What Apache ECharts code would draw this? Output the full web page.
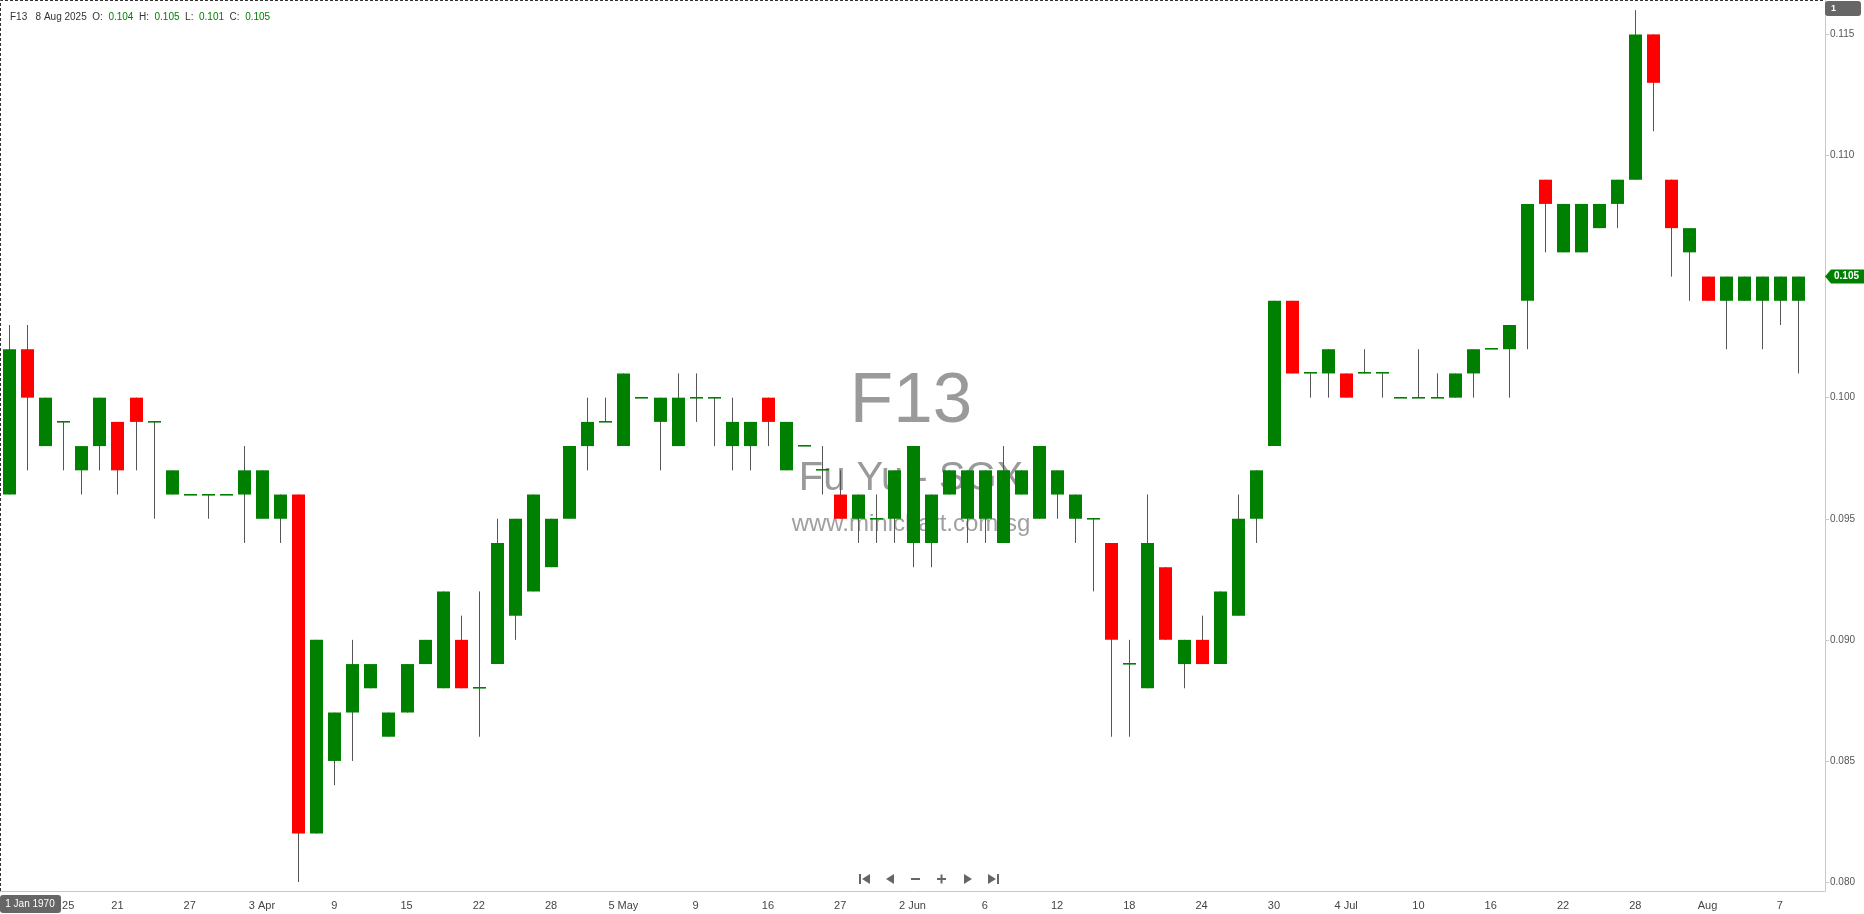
<!DOCTYPE html>
<html>
<head>
<meta charset="utf-8">
<script src="https://cdn.jsdelivr.net/npm/echarts@6/dist/echarts.min.js"></script>
<style>
  html, body { margin: 0; padding: 0; background: #fff; }
  #chart { width: 1864px; height: 914px; }
</style>
</head>
<body>
<div id="chart"></div>
<script>
// F13 Fu Yu - SGX, daily candles (oldest first)
const symbol = 'F13';
const lastDate = '8 Aug 2025';
const tickLabels = ['25', '21', '27', '3 Apr', '9', '15', '22', '28', '5 May', '9', '16', '27', '2 Jun',
  '6', '12', '18', '24', '30', '4 Jul', '10', '16', '22', '28', 'Aug', '7'];
const firstTick = 2, tickStep = 4;
const yLabels = [0.080, 0.085, 0.090, 0.095, 0.100, 0.105, 0.110, 0.115];

const open = [.096,.102,.098,.099,.097,.098,.099,.100,.099,.096, .096,.096,.096,.096,.095,.095,.096,.082,.085,.087,
  .088,.086,.087,.089,.088,.090,.088,.089,.091,.092, .093,.095,.098,.099,.098,.100,.099,.098,.100,.100,
  .098,.098,.100,.097,.098,.097,.096,.095,.095,.095, .094,.094,.096,.095,.095,.094,.096,.095,.096,.095,
  .095,.094,.089,.088,.093,.089,.090,.089,.091,.095, .098,.104,.101,.101,.101,.101,.101,.100,.100,.100,
  .100,.101,.102,.102,.104,.109,.106,.106,.107,.108, .109,.115,.109,.106,.105,.104,.104,.104,.104,.104];
const high = [.103,.103,.100,.099,.098,.100,.099,.100,.099,.097, .096,.096,.096,.098,.097,.096,.096,.090,.087,.090,
  .089,.087,.089,.090,.092,.091,.092,.095,.095,.096, .095,.098,.100,.100,.101,.100,.100,.101,.101,.100,
  .100,.099,.100,.099,.098,.098,.097,.096,.096,.097, .098,.096,.097,.097,.097,.098,.097,.098,.097,.096,
  .095,.094,.090,.096,.093,.090,.091,.092,.096,.097, .104,.104,.101,.102,.101,.102,.101,.100,.102,.101,
  .101,.102,.102,.103,.108,.109,.108,.108,.108,.109, .116,.115,.109,.107,.105,.105,.105,.105,.105,.105];
const low = [.096,.097,.098,.097,.096,.097,.096,.097,.095,.096, .096,.095,.096,.094,.095,.094,.080,.082,.084,.085,
  .088,.086,.087,.089,.088,.088,.086,.089,.090,.092, .093,.095,.097,.099,.098,.100,.097,.098,.099,.098,
  .097,.097,.098,.097,.098,.096,.095,.094,.094,.094, .093,.093,.096,.094,.094,.094,.096,.095,.095,.094,
  .092,.086,.086,.088,.090,.088,.089,.089,.091,.094, .098,.101,.100,.100,.100,.101,.100,.100,.100,.100,
  .100,.100,.102,.100,.102,.106,.106,.106,.107,.107, .109,.111,.105,.104,.104,.102,.104,.102,.103,.101];
const close = [.102,.100,.100,.099,.098,.100,.097,.099,.099,.097, .096,.096,.096,.097,.097,.096,.082,.090,.087,.089,
  .089,.087,.089,.090,.092,.088,.088,.094,.095,.096, .095,.098,.099,.099,.101,.100,.100,.100,.100,.100,
  .099,.099,.099,.099,.098,.097,.095,.096,.095,.097, .098,.096,.097,.097,.097,.097,.097,.098,.097,.096,
  .095,.090,.089,.094,.090,.090,.089,.092,.095,.097, .104,.101,.101,.102,.100,.101,.101,.100,.100,.100,
  .101,.102,.102,.103,.108,.108,.108,.108,.108,.109, .115,.113,.107,.107,.104,.105,.105,.105,.105,.105];

const UP = '#008000', DOWN = '#ff0000', WICK = '#555555';
const FONT = '"Liberation Sans", Arial, sans-serif';

// one empty slot after the last candle, like the original
const slots = open.map((_, i) => i).concat([open.length]);
const candles = open.map((o, i) => [i, o, close[i], low[i], high[i]]);
const last = open.length - 1;

const chart = echarts.init(document.getElementById('chart'));

function renderCandle(params, api) {
  const i = api.value(0);
  const o = api.value(1), c = api.value(2);
  const x = Math.round(api.coord([i, o])[0]) + 0.5;
  const yO = api.coord([i, o])[1];
  const yC = api.coord([i, c])[1];
  const yL = api.coord([i, api.value(3)])[1];
  const yH = api.coord([i, api.value(4)])[1];
  const bw = Math.round(api.size([1, 0])[0] * 0.72);
  const left = Math.round(x - bw / 2);
  const kids = [{
    type: 'line',
    shape: { x1: x, y1: yH, x2: x, y2: yL },
    style: { stroke: WICK, lineWidth: 1 }
  }];
  if (o === c) {
    kids.push({
      type: 'rect',
      shape: { x: left, y: Math.round(yO) - 1, width: bw, height: 1.6 },
      style: { fill: UP }
    });
  } else {
    kids.push({
      type: 'rect',
      shape: { x: left, y: Math.min(yO, yC), width: bw, height: Math.abs(yO - yC) },
      style: { fill: c > o ? UP : DOWN }
    });
  }
  return { type: 'group', children: kids };
}

const fmt = (v) => v.toFixed(3);
const isTick = (i) => i >= firstTick && (i - firstTick) % tickStep === 0;

chart.setOption({
  animation: false,
  title: {
    left: 5,
    top: 7,
    text: `{k|${symbol}}   {k|${lastDate}}  {k|O:}  {v|${fmt(open[last])}}  {k|H:}  {v|${fmt(high[last])}}  {k|L:}  {v|${fmt(low[last])}}  {k|C:}  {v|${fmt(close[last])}}`,
    textStyle: {
      fontWeight: 'normal',
      fontSize: 10,
      rich: {
        k: { color: '#333', fontSize: 10, fontWeight: 'normal', fontFamily: FONT },
        v: { color: UP, fontSize: 10, fontWeight: 'normal', fontFamily: FONT }
      }
    }
  },
  grid: { left: 0, top: 0, right: 39, bottom: 23 },
  xAxis: {
    type: 'category',
    data: slots,
    boundaryGap: true,
    axisLine: { lineStyle: { color: '#c8c8c8', width: 1 } },
    axisTick: {
      alignWithLabel: true,
      length: 5,
      interval: isTick,
      lineStyle: { color: '#c8c8c8' }
    },
    axisLabel: {
      interval: isTick,
      // the first label sits partly under the date box, its visible end shows to the right
      formatter: (v, i) => {
        const t = tickLabels[(i - firstTick) / tickStep] || '';
        return i === firstTick ? `{first|${t}}` : t;
      },
      rich: { first: { padding: [0, 0, 0, 46], color: '#444', fontSize: 11, fontFamily: FONT } },
      color: '#444',
      fontSize: 11,
      fontFamily: FONT,
      margin: 9
    },
    splitLine: { show: false }
  },
  yAxis: {
    type: 'value',
    position: 'right',
    min: 0.07963,
    max: 0.11642,
    axisLine: { show: true, lineStyle: { color: '#c8c8c8', width: 1 } },
    axisTick: { show: true, length: 4, customValues: yLabels, lineStyle: { color: '#c8c8c8' } },
    axisLabel: {
      customValues: yLabels,
      formatter: (v) => v.toFixed(3),
      color: '#555',
      fontSize: 10,
      fontFamily: FONT,
      margin: 5
    },
    splitLine: { show: false }
  },
  series: [{
    type: 'custom',
    name: symbol,
    renderItem: renderCandle,
    encode: { x: 0, y: [1, 2, 3, 4] },
    data: candles,
    clip: true,
    z: 5
  }]
});

// overlays: watermark, frame, price tag, nav buttons
const yLast = chart.convertToPixel({ yAxisIndex: 0 }, close[last]);
const axisX = 1825;
const navY = 879;
const tri = (cx, dir) => ({
  type: 'polygon',
  shape: { points: dir < 0 ? [[cx + 4, navY - 5], [cx + 4, navY + 5], [cx - 4, navY]] : [[cx - 4, navY - 5], [cx - 4, navY + 5], [cx + 4, navY]] },
  style: { fill: '#666' }
});
const bar = (x) => ({ type: 'rect', shape: { x: x, y: navY - 5, width: 2, height: 10 }, style: { fill: '#666' } });

chart.setOption({
  graphic: [
    { type: 'text', z: 0, x: 911, y: 402, style: { text: symbol, font: '71px ' + FONT, fill: '#9a9a9a', align: 'center', verticalAlign: 'middle' } },
    { type: 'text', z: 0, x: 911, y: 479, style: { text: 'Fu Yu - SGX', font: '40px ' + FONT, fill: '#9a9a9a', align: 'center', verticalAlign: 'middle' } },
    { type: 'text', z: 0, x: 911, y: 524, style: { text: 'www.minichart.com.sg', font: '24px ' + FONT, fill: '#a0a0a0', align: 'center', verticalAlign: 'middle' } },
    {
      type: 'polyline', z: 10,
      shape: { points: [[0.5, 891], [0.5, 0.5], [axisX, 0.5]] },
      style: { stroke: '#333', lineWidth: 1, lineDash: [3, 2], fill: null }
    },
    // bar count box
    { type: 'rect', z: 10, shape: { x: axisX, y: 1, width: 36, height: 15, r: 3 }, style: { fill: '#666' } },
    { type: 'text', z: 11, x: axisX + 6, y: 9, style: { text: '1', font: 'bold 9px ' + FONT, fill: '#fff', verticalAlign: 'middle' } },
    // last price tag
    {
      type: 'polygon', z: 10,
      shape: { points: [[axisX, yLast], [axisX + 6, yLast - 7], [1864, yLast - 7], [1864, yLast + 7], [axisX + 6, yLast + 7]] },
      style: { fill: UP }
    },
    { type: 'text', z: 11, x: axisX + 9, y: yLast, style: { text: fmt(close[last]), font: 'bold 10px ' + FONT, fill: '#fff', verticalAlign: 'middle' } },
    // first date box
    { type: 'rect', z: 10, shape: { x: 0, y: 895, width: 61, height: 18, r: 3 }, style: { fill: '#666' } },
    { type: 'text', z: 11, x: 30, y: 904, style: { text: '1 Jan 1970', font: '10px ' + FONT, fill: '#fff', align: 'center', verticalAlign: 'middle' } },
    // navigation buttons
    { type: 'group', z: 10, children: [
      bar(859), tri(866, -1),
      tri(890, -1),
      { type: 'rect', shape: { x: 911, y: navY - 1, width: 9, height: 2 }, style: { fill: '#666' } },
      { type: 'rect', shape: { x: 937, y: navY - 1, width: 9, height: 2 }, style: { fill: '#666' } },
      { type: 'rect', shape: { x: 940.5, y: navY - 4.5, width: 2, height: 9 }, style: { fill: '#666' } },
      tri(968, 1),
      tri(992, 1), bar(997)
    ] }
  ]
});
</script>
</body>
</html>
